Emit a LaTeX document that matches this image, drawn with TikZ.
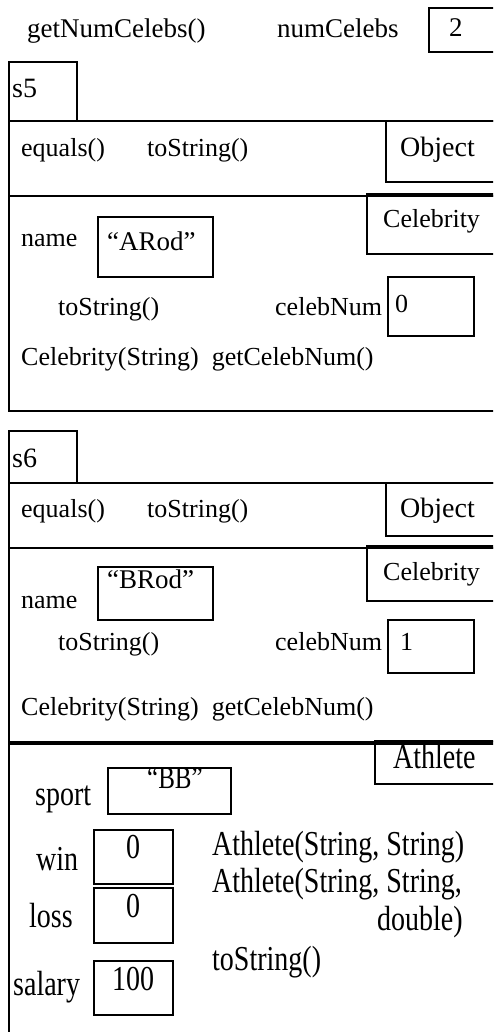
\documentclass[tikz,border=0pt]{standalone}
\usepackage{graphicx}
\usepackage{fontspec}
\setmainfont{Liberation Serif}
\newcommand{\tallbox}[1]{\scalebox{1}[1.25]{#1}}
\tikzset{
  box/.style={draw, line width=2pt, inner sep=0pt, anchor=north west},
  frameline/.style={line width=2pt},
  thickline/.style={line width=3.5pt},
  txt/.style={anchor=base west, inner sep=0pt, font=\fontsize{26}{26}\selectfont},
  toptxt/.style={anchor=base west, inner sep=0pt, font=\fontsize{27}{27}\selectfont},
  ath/.style={anchor=base west, inner sep=0pt, font=\fontsize{28}{28}\selectfont},
}
\begin{document}
\begin{tikzpicture}[x=1pt,y=-1pt]
\useasboundingbox (0,0) rectangle (493,1032);
\clip (0,0) rectangle (493,1032);
% top row
\node[toptxt] (gnc) at (27,38) {getNumCelebs()};
\node[toptxt] (nc) at (277,38) {numCelebs};
\node[box, minimum width=80, minimum height=44] (ncbox) at (428,7) {};
\node[toptxt] (ncval) at (449,37) {2};

% ===== s5 =====
\node[box, minimum width=68, minimum height=59] (s5box) at (8,61) {};
\node[txt, font=\fontsize{28}{28}\selectfont] (s5) at (12,98) {s5};
\node[box, minimum width=520, minimum height=290] (f5) at (8,120) {};
\node[box, minimum width=130, minimum height=61] (obj5) at (385,120) {};
\node[txt] (eq5) at (21,157) {equals()};
\node[txt] (ts5a) at (147,157) {toString()};
\node[txt, font=\fontsize{28}{28}\selectfont] (objt5) at (400,157) {Object};
\coordinate (l5a) at (8,196);
\coordinate (l5b) at (366,196);
\draw[frameline] (l5a) -- (l5b);
\node[box, minimum width=150, minimum height=58] (cel5) at (366,195) {};
\draw[thickline] (cel5.north west) -- (cel5.north east);
\node[txt] (celt5) at (383,228) {Celebrity};
\node[txt] (name5) at (21,247) {name};
\node[box, minimum width=115, minimum height=60] (arodbox) at (97,216) {};
\node[txt, font=\fontsize{27}{27}\selectfont] (arod) at (107,251) {“ARod”};
\node[txt] (ts5b) at (58,315) {toString()};
\node[txt] (cn5) at (275,315) {celebNum};
\node[box, minimum width=86, minimum height=59] (cn5box) at (387,276) {};
\node[txt] (cn5val) at (395,312) {0};
\node[txt] (ctor5) at (21,365) {Celebrity(String)\ \ getCelebNum()};

% ===== s6 =====
\node[box, minimum width=68, minimum height=52] (s6box) at (8,430) {};
\node[txt, font=\fontsize{28}{28}\selectfont] (s6) at (12,467) {s6};
\node[box, minimum width=520, minimum height=600] (f6) at (8,482) {};
\node[box, minimum width=130, minimum height=53] (obj6) at (385,482) {};
\node[txt] (eq6) at (21,517) {equals()};
\node[txt] (ts6a) at (147,517) {toString()};
\node[txt, font=\fontsize{28}{28}\selectfont] (objt6) at (400,517) {Object};
\coordinate (l6a) at (8,548);
\coordinate (l6b) at (366,548);
\draw[frameline] (l6a) -- (l6b);
\node[box, minimum width=150, minimum height=53] (cel6) at (366,547) {};
\draw[thickline] (cel6.north west) -- (cel6.north east);
\node[txt] (celt6) at (383,580) {Celebrity};
\node[txt] (name6) at (21,608) {name};
\node[box, minimum width=115, minimum height=53] (brodbox) at (97,566) {};
\node[txt, font=\fontsize{27}{27}\selectfont] (brod) at (107,588) {“BRod”};
\node[txt] (ts6b) at (58,650) {toString()};
\node[txt] (cn6) at (275,650) {celebNum};
\node[box, minimum width=86, minimum height=53] (cn6box) at (387,619) {};
\node[txt] (cn6val) at (400,650) {1};
\node[txt] (ctor6) at (21,715) {Celebrity(String)\ \ getCelebNum()};

% Athlete section
\coordinate (l7a) at (8,743);
\coordinate (l7b) at (520,743);
\draw[line width=4.5pt] (l7a) -- (l7b);
\node[box, minimum width=150, minimum height=43] (ath6) at (374,740) {};
\node[ath] (atht) at (393,768) {\tallbox{Athlete}};
\node[ath] (sport) at (35,805) {\tallbox{sport}};
\node[box, minimum width=123, minimum height=46] (bbbox) at (107,767) {};
\node[ath, font=\fontsize{25}{25}\selectfont] (bb) at (147,788) {\tallbox{“BB”}};
\node[ath] (win) at (36,870) {\tallbox{win}};
\node[box, minimum width=79, minimum height=54] (winbox) at (93,829) {};
\node[ath] (winval) at (126,858) {\tallbox{0}};
\node[ath] (loss) at (29,927) {\tallbox{loss}};
\node[box, minimum width=79, minimum height=55] (lossbox) at (93,887) {};
\node[ath] (lossval) at (126,917) {\tallbox{0}};
\node[ath] (salary) at (13,995) {\tallbox{salary}};
\node[box, minimum width=79, minimum height=54] (salbox) at (93,960) {};
\node[ath] (salval) at (112,990) {\tallbox{100}};
\node[ath] (actor1) at (212,855) {\tallbox{Athlete(String, String)}};
\node[ath] (actor2) at (212,892) {\tallbox{Athlete(String, String,}};
\node[ath] (actor2b) at (377,930) {\tallbox{double)}};
\node[ath] (ts7) at (212,970) {\tallbox{toString()}};
\end{tikzpicture}
\end{document}
